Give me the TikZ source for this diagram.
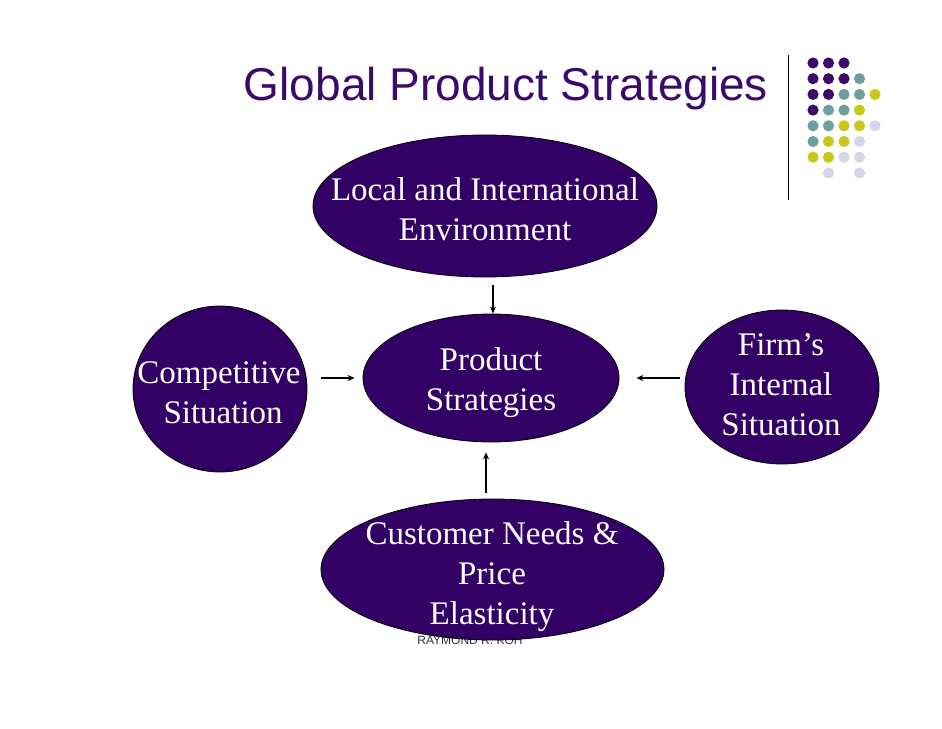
\documentclass[tikz,border=0pt]{standalone}
\usepackage{fontspec}
\setmainfont{Liberation Serif}
\newfontfamily\titlefont{Liberation Sans}
\usetikzlibrary{shapes.geometric,arrows.meta}
\definecolor{ovalfill}{HTML}{330066}
\definecolor{titlecol}{HTML}{3A0B6A}
\definecolor{dotP}{HTML}{3D0A69}
\definecolor{dotT}{HTML}{6E9E9E}
\definecolor{dotY}{HTML}{C8C81A}
\definecolor{dotL}{HTML}{D5D5EA}
\tikzset{
  oval/.style={ellipse, draw=black, line width=0.8pt, fill=ovalfill, inner sep=0pt},
  ovaltext/.style={text=white, align=center, inner sep=0pt, font=\fontsize{33}{40}\selectfont},
  arr/.style={-{Stealth[length=7pt,width=6pt]}, line width=1.1pt, black},
}
\begin{document}
\begin{tikzpicture}[x=1pt,y=-1pt]
\useasboundingbox[fill=white] (0,0) rectangle (942,728);
% title
\node[anchor=base, text=titlecol, font=\titlefont\fontsize{46}{50}\selectfont, inner sep=0pt] (title) at (506,100) {Global Product Strategies};
% vertical rule
\coordinate (ruletop) at (788,55);
\coordinate (rulebot) at (788,200);
\draw[line width=1pt] (ruletop) -- (rulebot);
% dots
\foreach \row/\cols in {0/{P,P,P,N,N},1/{P,P,P,T,N},2/{P,P,T,T,Y},3/{P,T,T,Y,N},4/{T,T,Y,Y,L},5/{T,Y,Y,L,N},6/{Y,Y,L,L,N},7/{N,L,N,L,N}}{
  \foreach \c [count=\i from 0] in \cols {
    \if N\c\else
      \fill[dot\c] ({813+15.5*\i},{63+15.7*\row}) circle (5.6);
    \fi
  }
}
% footer (behind the bottom oval)
\node[anchor=base, text=black!80, font=\titlefont\fontsize{12}{14}\selectfont, inner sep=0pt] (footer) at (470,644) {RAYMOND R. KOH};
% ovals
\node[oval, minimum width=344pt, minimum height=142pt] (top) at (485,206) {};
\node[oval, minimum width=256pt, minimum height=128pt] (center) at (491,378) {};
\node[oval, minimum width=174pt, minimum height=166pt] (left) at (220,389) {};
\node[oval, minimum width=194pt, minimum height=154pt] (right) at (782,387) {};
\node[oval, minimum width=343pt, minimum height=141pt] (bottom) at (492.5,569.5) {};
% oval texts
\node[ovaltext] (toptext) at (485,209) {Local and International\\Environment};
\node[ovaltext] (centertext) at (491,383) {Product\\Strategies};
\node[ovaltext] (lefttext) at (219,393) {Competitive\\\ Situation};
\node[ovaltext] (righttext) at (781,385) {Firm’s\\Internal\\Situation};
\node[ovaltext] (bottomtext) at (492,577) {Customer Needs \&\\Price\\Elasticity};
% arrows
\draw[arr, shorten <=8pt, shorten >=0pt] ([xshift=2pt]center.north |- top.south) -- ([xshift=2pt]center.north);
\draw[arr, shorten <=14pt, shorten >=8pt] (left.east |- center.west) -- (center.west);
\draw[arr, shorten <=5pt, shorten >=17pt] (right.west |- center.east) -- (center.east);
\draw[arr, shorten <=6pt, shorten >=10pt] ([xshift=-5pt]center.south |- bottom.north) -- ([xshift=-5pt]center.south);
\end{tikzpicture}
\end{document}
